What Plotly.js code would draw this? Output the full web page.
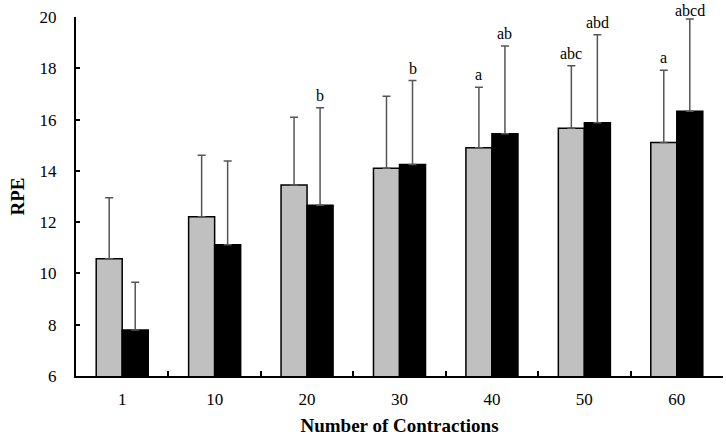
<!DOCTYPE html>
<html>
<head>
<meta charset="utf-8">
<script src="https://cdn.plot.ly/plotly-3.0.1.min.js"></script>
<style>
  html, body { margin: 0; padding: 0; background: #fff; }
  #chart { width: 726px; height: 436px; }
</style>
</head>
<body>
<div id="chart"></div>
<script>
// contractions and RPE (mean and SD) for both conditions
var contractions = ['1', '10', '20', '30', '40', '50', '60'];
var greyMean = [10.57, 12.21, 13.45, 14.10, 14.90, 15.66, 15.11];
var greySd = [2.38, 2.40, 2.64, 2.81, 2.36, 2.44, 2.81];
var blackMean = [7.79, 11.12, 12.66, 14.25, 15.45, 15.88, 16.32];
var blackSd = [1.87, 3.26, 3.80, 3.27, 3.42, 3.43, 3.60];
var greyLetters = ['', '', '', '', 'a', 'abc', 'a'];
var blackLetters = ['', '', 'b', 'b', 'ab', 'abd', 'abcd'];

var serif = 'Liberation Serif, Times New Roman, serif';
var zeros = contractions.map(function () { return 0; });

function errBars(sd) {
  return {
    type: 'data', symmetric: false, array: sd, arrayminus: zeros,
    color: '#555555', thickness: 1.5, width: 4
  };
}

var grey = {
  x: contractions, y: greyMean, type: 'bar', name: 'grey',
  marker: { color: '#c0c0c0', line: { color: '#000', width: 1.5 } },
  error_y: errBars(greySd)
};

var black = {
  x: contractions, y: blackMean, type: 'bar', name: 'black',
  marker: { color: '#000000', line: { color: '#000', width: 1.5 } },
  error_y: errBars(blackSd)
};

// significance letters above the error bars (x given as category index,
// because numeric-looking category names are read as indices)
var notes = [];
function letter(i, y, txt, shift) {
  // letters right under the top edge sit a little tighter so they stay on the page
  var lift = y > 19.5 ? -1 : 3;
  notes.push({ x: i, y: y, text: txt, xshift: shift, yshift: lift,
    yanchor: 'bottom', borderpad: 0, showarrow: false, font: { size: 16 } });
}
contractions.forEach(function (c, i) {
  if (greyLetters[i]) letter(i, greyMean[i] + greySd[i], greyLetters[i], -13);
  if (blackLetters[i]) letter(i, blackMean[i] + blackSd[i], blackLetters[i], 13);
});

var layout = {
  width: 726, height: 436,
  margin: { l: 76, r: 3, t: 17, b: 60 },
  paper_bgcolor: '#fff', plot_bgcolor: '#fff',
  font: { family: serif, size: 17, color: '#000' },
  showlegend: false,
  barmode: 'group',
  bargap: 0.437, bargroupgap: 0,
  xaxis: {
    type: 'category', range: [-0.5, 6.5],
    showline: true, linecolor: '#000', linewidth: 2,
    ticks: 'inside', tickson: 'boundaries', ticklen: 5, tickwidth: 2, tickcolor: '#000',
    ticklabelstandoff: 7,
    showgrid: false, zeroline: false,
    title: { text: '<b>Number of Contractions</b>', font: { size: 19 }, standoff: 11 }
  },
  yaxis: {
    range: [6, 20], dtick: 2,
    showline: true, linecolor: '#000', linewidth: 2,
    ticks: 'inside', ticklen: 4, tickwidth: 2, tickcolor: '#000',
    ticklabelstandoff: 14,
    showgrid: false, zeroline: false,
    title: { text: '<b>RPE</b>', font: { size: 19 }, standoff: 10 }
  },
  annotations: notes
};

Plotly.newPlot('chart', [grey, black], layout, { displayModeBar: false, staticPlot: true });
</script>
</body>
</html>
